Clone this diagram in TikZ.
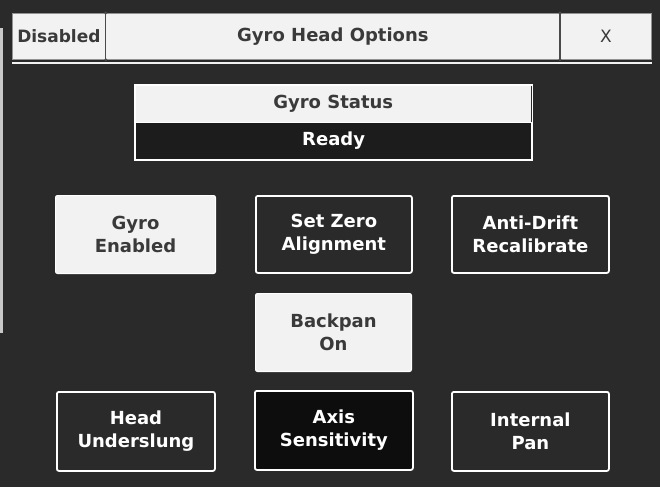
\documentclass[tikz,border=0pt]{standalone}
\usepackage{fontspec}
\setmainfont{DejaVu Sans}
\definecolor{bg}{HTML}{2A2A2A}
\definecolor{lite}{HTML}{F2F2F2}
\definecolor{ink}{HTML}{3A3A3A}
\definecolor{strip}{HTML}{C8C8C8}
\definecolor{sep}{HTML}{4A4A4A}
\definecolor{dk}{HTML}{1C1C1C}
\begin{document}
\begin{tikzpicture}[x=1pt,y=-1pt,
  txt/.style={font=\bfseries\fontsize{18}{23}\selectfont, align=center, inner sep=0pt, anchor=north west},
  titlebox/.style={txt, draw=sep!60!white, line width=0.8pt, fill=lite, text=ink, minimum height=46pt},
  litebtn/.style={txt, draw=white, line width=1pt, fill=lite, text=ink, rounded corners=2pt, minimum width=158pt, minimum height=78pt},
  darkbtn/.style={txt, draw=white, line width=1.8pt, fill=bg, text=white, rounded corners=2pt, minimum width=156pt, minimum height=77pt}
]
\useasboundingbox (0,0) rectangle (660,487);
\fill[bg] (0,0) rectangle (660,487);
\fill[strip] (0,28) rectangle (3,333);

% title bar
\node[titlebox, minimum width=93pt, font=\bfseries\fontsize{17}{22}\selectfont] (dis) at (12,13) {Disabled};
\node[titlebox, minimum width=455pt] (ttl) at (105,13) {Gyro Head Options};
\node[titlebox, minimum width=91pt, font=\fontsize{17}{22}\selectfont] (xb) at (560,13) {X};
\draw[sep, line width=1.2pt] (dis.north east) -- (dis.south east);
\draw[sep, line width=1.2pt] (xb.north west) -- (xb.south west);
\foreach \p in {dis.north east, dis.south east, xb.north west, xb.south west}
  \fill[sep] (\p) circle (1.6pt);
\draw[lite, line width=1.6pt] ([yshift=-3pt]dis.south west) -- ([yshift=-3pt]xb.south east);

% status
\node[txt, fill=lite, text=ink, minimum width=396pt, minimum height=37pt] (st) at (135,85) {Gyro Status};
\node[txt, fill=dk, text=white, draw=white, line width=1.2pt, minimum width=396pt, minimum height=37pt] (rd) at (135,122) {Ready};
\draw[white, line width=1.2pt] (st.north west) rectangle (rd.south east);

% buttons
\node[litebtn, minimum width=160pt] (ge) at (55,195) {Gyro\\Enabled};
\node[darkbtn] (sz) at (255,195) {Set Zero\\Alignment};
\node[darkbtn, minimum width=157pt] (ad) at (451,195) {Anti-Drift\\Recalibrate};
\node[litebtn, minimum width=156pt] (bp) at (255,293) {Backpan\\On};
\node[darkbtn, minimum width=158pt, minimum height=79pt] (hu) at (56,391) {Head\\Underslung};
\node[darkbtn, fill=black!95, minimum width=158pt, minimum height=79pt] (ax) at (254,390) {Axis\\Sensitivity};
\node[darkbtn, minimum width=157pt, minimum height=79pt] (ip) at (451,391) {Internal\\Pan};
\end{tikzpicture}
\end{document}
